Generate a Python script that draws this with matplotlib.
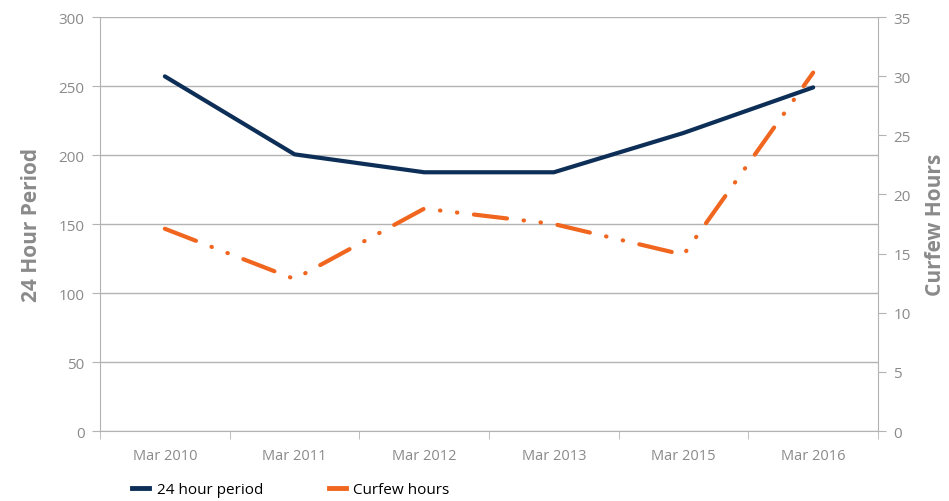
import matplotlib
matplotlib.use("Agg")
import matplotlib.pyplot as plt
from matplotlib.lines import Line2D

plt.rcParams['font.family'] = ['Open Sans', 'DejaVu Sans']

categories = ["Mar 2010", "Mar 2011", "Mar 2012", "Mar 2013", "Mar 2015", "Mar 2016"]
period_24h = [257, 200.5, 187.5, 187.5, 216, 249]
curfew_hours = [17.1, 12.85, 18.8, 17.5, 14.9, 30.3]

navy = "#0d2f57"
orange = "#f0661f"
grey = "#8a8a8a"
gridc = "#b3b3b3"

fig = plt.figure(figsize=(9.49, 5.02), dpi=100)
ax = fig.add_axes([0.1054, 0.1394, 0.8198, 0.8247])
ax2 = ax.twinx()

x = list(range(len(categories)))
ax.plot(x, period_24h, color=navy, lw=3, solid_capstyle='round', zorder=3)
ax2.plot(x, curfew_hours, color=orange, lw=3, dashes=(8, 4, 0.1, 4, 0.1, 4),
         dash_capstyle='round', zorder=3)

ax.set_xlim(-0.5, len(categories) - 0.5)
ax.set_ylim(0, 300)
ax2.set_ylim(0, 35)
ax.set_yticks(range(0, 301, 50))
ax2.set_yticks(range(0, 36, 5))
ax.set_xticks(x)
ax.set_xticklabels(categories)
ax.set_xticks([i - 0.5 for i in range(len(categories) + 1)], minor=True)

ax.grid(axis='y', color=gridc, lw=1)
ax.set_axisbelow(True)

for a in (ax, ax2):
    a.spines['top'].set_visible(False)
    for s in ('left', 'right', 'bottom'):
        a.spines[s].set_color(gridc)
ax.spines['right'].set_visible(False)
ax2.spines['left'].set_visible(False)
ax2.spines['bottom'].set_visible(False)

ax.tick_params(axis='x', which='major', length=0, pad=12, labelsize=10.5, labelcolor=grey)
ax.tick_params(axis='x', which='minor', length=6, color=gridc)
ax.tick_params(axis='y', length=6, color=gridc, labelsize=11, labelcolor=grey, pad=5)
ax2.tick_params(axis='y', length=6, color=gridc, labelsize=11, labelcolor=grey, pad=5)

ax.set_ylabel("24 Hour Period", fontsize=15, fontweight='bold', color=grey, labelpad=12)
ax2.set_ylabel("Curfew Hours", fontsize=15, fontweight='bold', color=grey, labelpad=10)

handles = [Line2D([], [], color=navy, lw=3.5), Line2D([], [], color=orange, lw=3.5)]
fig.legend(handles, ["24 hour period", "Curfew hours"], loc='lower left',
           bbox_to_anchor=(0.125, -0.02), ncol=2, frameon=False, fontsize=11,
           handlelength=1.1, columnspacing=4.3, handletextpad=0.5)

fig.savefig("out.png", dpi=100)
